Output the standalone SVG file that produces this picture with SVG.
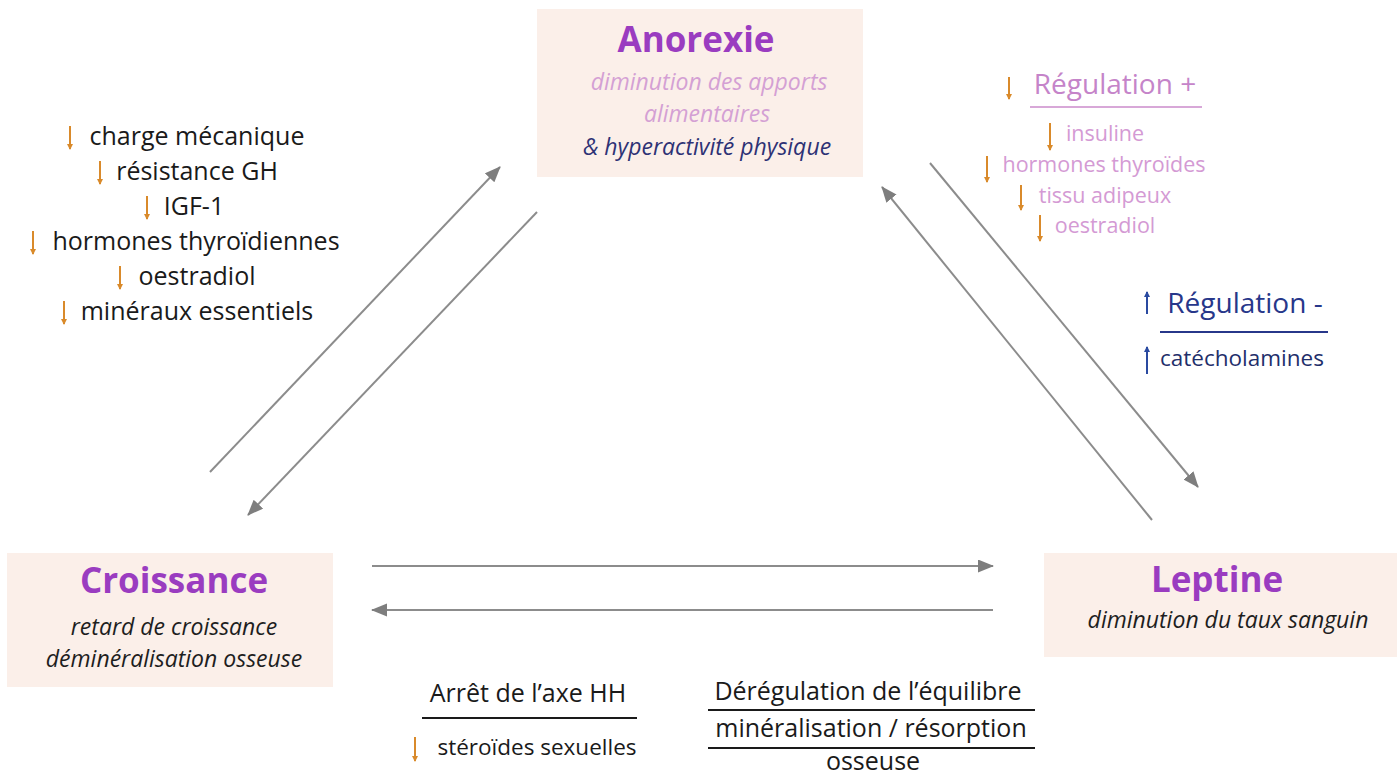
<svg xmlns="http://www.w3.org/2000/svg" width="1397" height="783" viewBox="0 0 1397 783">
<defs>
<style>
text{font-family:"Open Sans","Noto Sans","Liberation Sans",sans-serif;}
.box{fill:#fbefe9;}
.title{font-size:35px;font-weight:700;fill:#9a3cc0;text-anchor:middle;}
.sub{font-size:23px;font-style:italic;fill:#1e1e1e;text-anchor:middle;}
.pinkit{fill:#d4a0d4;}
.navyit{fill:#2e3275;}
.lst{font-size:25px;fill:#1a1a1a;text-anchor:middle;}
.rp{font-size:21.5px;fill:#d49ad4;text-anchor:middle;}
.rh{font-size:28px;text-anchor:middle;}
.conn{stroke:#8c8c8c;stroke-width:2;fill:none;marker-end:url(#ah);}
.dn{stroke:#d98a2b;stroke-width:2;marker-end:url(#ho);}
.up{stroke:#2a4aa0;stroke-width:2;marker-end:url(#hb);}
.ul{stroke-width:1.8;}
</style>
<marker id="ah" markerUnits="userSpaceOnUse" markerWidth="18" markerHeight="14" refX="15" refY="6.5" orient="auto">
<path d="M0,0 L16,6.5 L0,13 z" fill="#7e7e7e"/>
</marker>
<marker id="ho" markerUnits="userSpaceOnUse" markerWidth="8" markerHeight="8" refX="5" refY="3" orient="auto">
<path d="M0,0 L6,3 L0,6 z" fill="#d98a2b"/>
</marker>
<marker id="hb" markerUnits="userSpaceOnUse" markerWidth="8" markerHeight="8" refX="5" refY="3" orient="auto">
<path d="M0,0 L6,3 L0,6 z" fill="#2a4aa0"/>
</marker>
</defs>
<rect width="1397" height="783" fill="#ffffff"/>

<g id="anorexie">
<rect class="box" x="537" y="9" width="326" height="168"/>
<text class="title" x="696" y="52">Anorexie</text>
<text class="sub pinkit" x="709" y="90">diminution des apports</text>
<text class="sub pinkit" x="707" y="122">alimentaires</text>
<text class="sub navyit" x="707" y="155">&amp; hyperactivité physique</text>
</g>

<g id="croissance">
<rect class="box" x="7" y="553" width="326" height="134"/>
<text class="title" x="174" y="593">Croissance</text>
<text class="sub" x="174" y="635">retard de croissance</text>
<text class="sub" x="174" y="667">déminéralisation osseuse</text>
</g>

<g id="leptine">
<rect class="box" x="1044" y="553" width="353" height="104"/>
<text class="title" x="1217" y="592">Leptine</text>
<text class="sub" x="1228" y="628">diminution du taux sanguin</text>
</g>

<g id="facteurs-croissance">
<text class="lst" x="197" y="145">charge mécanique</text>
<text class="lst" x="197" y="180">résistance GH</text>
<text class="lst" x="194" y="215">IGF-1</text>
<text class="lst" x="196" y="250">hormones thyroïdiennes</text>
<text class="lst" x="197" y="285">oestradiol</text>
<text class="lst" x="197" y="320">minéraux essentiels</text>
<line class="dn" x1="70" y1="126" x2="70" y2="149"/>
<line class="dn" x1="100" y1="161" x2="100" y2="184"/>
<line class="dn" x1="147" y1="196" x2="147" y2="219"/>
<line class="dn" x1="33" y1="231" x2="33" y2="254"/>
<line class="dn" x1="120" y1="266" x2="120" y2="289"/>
<line class="dn" x1="64" y1="301" x2="64" y2="324"/>
</g>

<g id="regulation-plus">
<text class="rh" x="1115" y="94" fill="#c584c9">Régulation +</text>
<line class="ul" x1="1030" y1="107" x2="1202" y2="107" stroke="#d8a8d8"/>
<line class="dn" x1="1009" y1="77" x2="1009" y2="99"/>
<text class="rp" x="1105" y="141">insuline</text>
<text class="rp" x="1104" y="172">hormones thyroïdes</text>
<text class="rp" x="1105" y="203">tissu adipeux</text>
<text class="rp" x="1105" y="233">oestradiol</text>
<line class="dn" x1="1050" y1="123" x2="1050" y2="150"/>
<line class="dn" x1="987" y1="156" x2="987" y2="182"/>
<line class="dn" x1="1021" y1="185" x2="1021" y2="210"/>
<line class="dn" x1="1040" y1="215" x2="1040" y2="241"/>
</g>

<g id="regulation-moins">
<text class="rh" x="1245" y="313" fill="#27378a">Régulation -</text>
<line class="ul" x1="1160" y1="332" x2="1328" y2="332" stroke="#27378a"/>
<line class="up" x1="1147" y1="314" x2="1147" y2="292"/>
<text x="1242" y="366" font-size="22.5px" fill="#1f2f6b" text-anchor="middle">catécholamines</text>
<line class="up" x1="1147" y1="374" x2="1147" y2="347"/>
</g>

<g id="axe-hh">
<text class="lst" x="528" y="702">Arrêt de l’axe HH</text>
<line class="ul" x1="422" y1="718" x2="637" y2="718" stroke="#1a1a1a"/>
<text x="537" y="755" font-size="22.5px" fill="#1a1a1a" text-anchor="middle">stéroïdes sexuelles</text>
<line class="dn" x1="415" y1="737" x2="415" y2="761"/>
</g>

<g id="deregulation">
<text class="lst" x="868" y="700">Dérégulation de l’équilibre</text>
<line class="ul" x1="708" y1="710" x2="1035" y2="710" stroke="#1a1a1a"/>
<text class="lst" x="871" y="737">minéralisation / résorption</text>
<line class="ul" x1="708" y1="748" x2="1035" y2="748" stroke="#1a1a1a"/>
<text class="lst" x="873" y="770">osseuse</text>
</g>

<g id="connectors">
<line class="conn" x1="210" y1="472" x2="500" y2="167"/>
<line class="conn" x1="537" y1="212" x2="248" y2="515"/>
<line class="conn" x1="930" y1="163" x2="1198" y2="487"/>
<line class="conn" x1="1152" y1="520" x2="882" y2="187"/>
<line class="conn" x1="372" y1="566" x2="993" y2="566"/>
<line class="conn" x1="993" y1="610" x2="372" y2="610"/>
</g>
</svg>
